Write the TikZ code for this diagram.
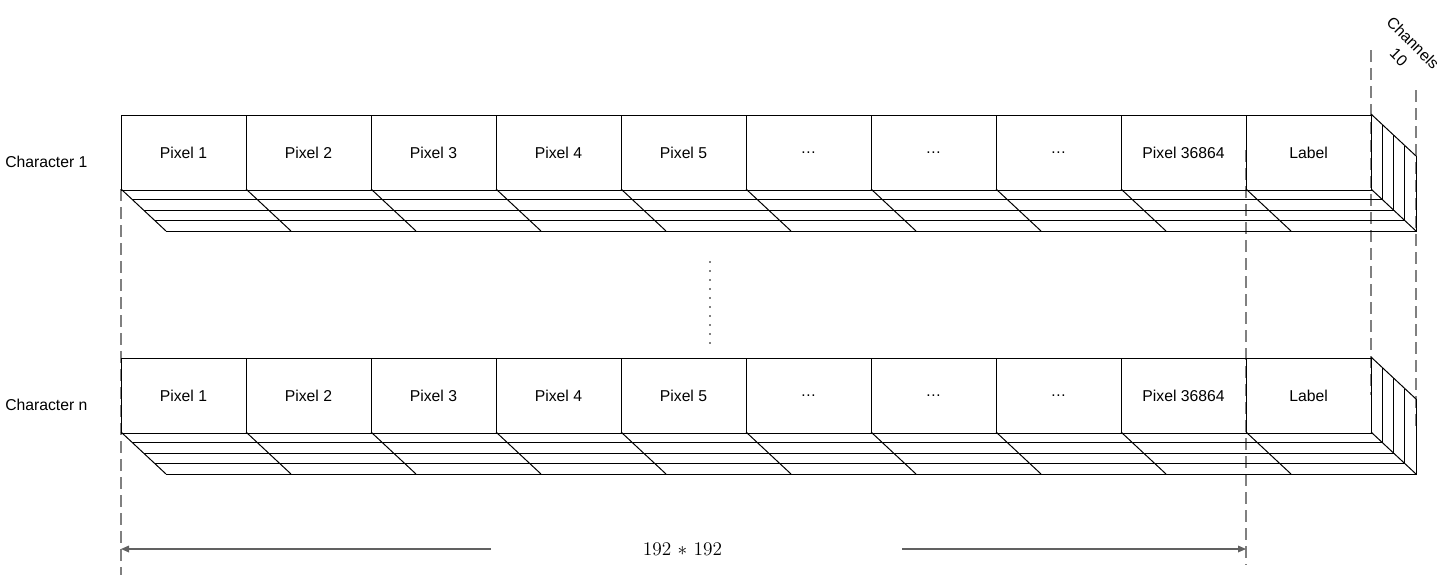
\documentclass[tikz,border=0pt]{standalone}
\usepackage{fontspec}
\setsansfont{Liberation Sans}
\usetikzlibrary{arrows.meta}
\colorlet{guidegray}{black!50}
\colorlet{dimgray}{black!62}
\tikzset{pxp/.style={
  x=0.75pt,
  y=-0.75pt
}}
\tikzset{cell/.style={
  draw,
  shape=rectangle,
  line width=0.75pt,
  minimum width=93.75pt,
  minimum height=56.25pt,
  inner sep=0pt,
  font=\sffamily\fontsize{11.8}{14}\selectfont
}}
\tikzset{face/.style={line width=0.75pt}}
\tikzset{guide/.style={
  draw=guidegray,
  line width=0.9pt,
  dash pattern=on 9pt off 4.5pt
}}
\tikzset{dimline/.style={
  draw=dimgray,
  line width=0.9pt,
  -{Triangle[length=6pt,width=5pt]}
}}
\tikzset{lbl/.style={font=\sffamily\fontsize{11.8}{14}\selectfont, inner sep=0pt}}

\begin{document}
\begin{tikzpicture}[pxp]
    \useasboundingbox (0,0) rectangle (1445,582);

    % Guide lines
    \coordinate (gA) at (121,575);
    \coordinate (gB) at (1246,565);
    \coordinate (gC) at (1371,50);
    \coordinate (gD) at (1416,90);
    \draw[guide] (121,189) -- (gA);
    \draw[guide] (1246,150) -- (gB);
    \draw[guide] (gC) -- (1371,395);
    \draw[guide] (gD) -- (1416,432);

    % Two character rows
    \foreach \r/\top in {1/114, n/357} {
      % front faces
      \foreach \t [count=\i] in {Pixel 1,Pixel 2,Pixel 3,Pixel 4,Pixel 5,
                                 \ldots,\ldots,\ldots,Pixel 36864,Label}
        \node[cell] (row\r-\i) at ({121+125*\i-62.5},{\top+38.5}) {\t};
      % bottom and right faces, four channel layers
      \foreach \k in {1,...,4}
        \draw[face] ({121+11.25*\k},{\top+75+10.5*\k}) -- ++(1250,0) -- ++(0,-75);
      \foreach \i in {0,...,10}
        \draw[face] ({121+125*\i},{\top+75}) -- ++(45,42);
      \draw[face] (1371,\top) -- ++(45,42);
      \node[lbl, anchor=west] (char\r) at (5,{\top+48}) {Character \r};
    }

    % Rows in between
    \foreach \j in {0,...,9}
      \fill (710,{262+9*\j}) circle (0.9);

    % Channel depth
    \node[lbl, rotate=-45, align=center] (chan) at (1406,50) {Channels\\[1pt]10};

    % Width of one row
    \node[inner sep=0pt, font=\fontsize{14.5}{16}\selectfont] (dim) at (682.5,549)
      {192\ $*$\ 192};
    \coordinate (dimA) at (491,549);
    \coordinate (dimB) at (902,549);
    \draw[dimline] (dimA) -- (121,549);
    \draw[dimline] (dimB) -- (1246,549);
\end{tikzpicture}
\end{document}
